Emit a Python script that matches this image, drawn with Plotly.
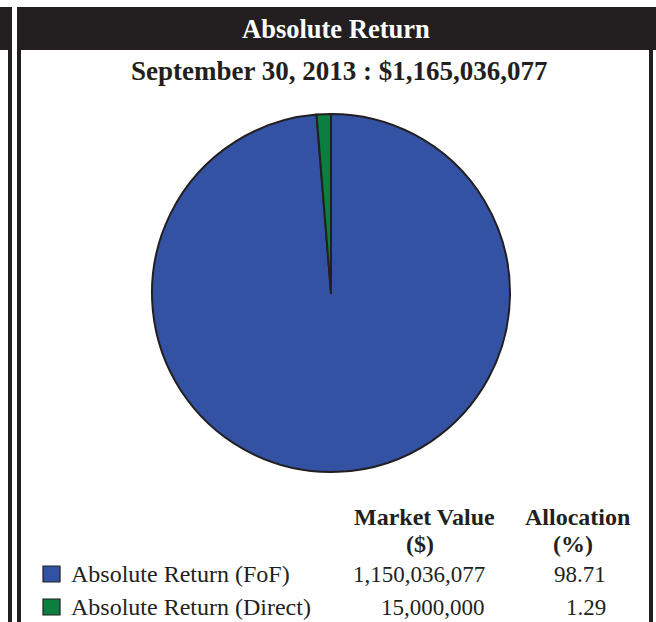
import plotly.graph_objects as go

W, H = 656, 622

header_title = "Absolute Return"
subtitle = "September 30, 2013 : $1,165,036,077"
categories = ["Absolute Return (FoF)", "Absolute Return (Direct)"]
market_values = [1150036077, 15000000]
allocations = [98.71, 1.29]
colors = ["#3452a4", "#0b7f3f"]
col_headers = [("Market Value", "($)"), ("Allocation", "(%)")]

INK = "#231f20"
FONT = "Liberation Serif, Times New Roman, serif"


def px(x):
    return x / W


def py(y):
    return 1 - y / H


fig = go.Figure()
fig.add_trace(go.Pie(
    labels=categories,
    values=market_values,
    marker=dict(colors=colors, line=dict(color=INK, width=2)),
    textinfo="none",
    hoverinfo="label+value+percent",
    sort=False,
    direction="clockwise",
    rotation=0,
    showlegend=False,
    domain=dict(x=[px(152), px(510)], y=[py(472), py(114)]),
))

shapes = []
# header bar
shapes.append(dict(type="rect", xref="paper", yref="paper", x0=px(0), x1=px(12), y0=py(50), y1=py(7),
                   fillcolor=INK, line=dict(width=0), layer="below"))
shapes.append(dict(type="rect", xref="paper", yref="paper", x0=px(17), x1=px(656), y0=py(50), y1=py(7),
                   fillcolor=INK, line=dict(width=0), layer="below"))
# vertical bars
shapes.append(dict(type="rect", xref="paper", yref="paper", x0=px(8), x1=px(12), y0=py(622), y1=py(50),
                   fillcolor=INK, line=dict(width=0)))
shapes.append(dict(type="rect", xref="paper", yref="paper", x0=px(17), x1=px(21), y0=py(622), y1=py(7),
                   fillcolor=INK, line=dict(width=0)))
shapes.append(dict(type="rect", xref="paper", yref="paper", x0=px(649), x1=px(653), y0=py(622), y1=py(50),
                   fillcolor=INK, line=dict(width=0)))

annotations = []
annotations.append(dict(text="<b>%s</b>" % header_title, x=px(336), y=py(29), xref="paper", yref="paper",
                        xanchor="center", yanchor="middle", showarrow=False,
                        font=dict(family=FONT, size=26.5, color="white")))
annotations.append(dict(text="<b>%s</b>" % subtitle, x=px(339), y=py(71), xref="paper", yref="paper",
                        xanchor="center", yanchor="middle", showarrow=False,
                        font=dict(family=FONT, size=27, color=INK)))

# column headers
col_centers = [424, 577]
for (h1, h2), cx in zip(col_headers, col_centers):
    annotations.append(dict(text="<b>%s</b>" % h1, x=px(cx), y=py(517), xref="paper", yref="paper",
                            xanchor="center", yanchor="middle", showarrow=False,
                            font=dict(family=FONT, size=24, color=INK)))
    annotations.append(dict(text="<b>%s</b>" % h2, x=px(cx - 4), y=py(544), xref="paper", yref="paper",
                            xanchor="center", yanchor="middle", showarrow=False,
                            font=dict(family=FONT, size=24, color=INK)))

row_y = [574, 607]
for cat, mv, al, col, ry in zip(categories, market_values, allocations, colors, row_y):
    shapes.append(dict(type="rect", xref="paper", yref="paper", x0=px(43), x1=px(60), y0=py(ry + 8), y1=py(ry - 8),
                       fillcolor=col, line=dict(color=INK, width=1.2)))
    annotations.append(dict(text=cat, x=px(69), y=py(ry), xref="paper", yref="paper",
                            xanchor="left", yanchor="middle", showarrow=False,
                            font=dict(family=FONT, size=24, color=INK)))
    annotations.append(dict(text=f"{mv:,}", x=px(487), y=py(ry), xref="paper", yref="paper",
                            xanchor="right", yanchor="middle", showarrow=False,
                            font=dict(family=FONT, size=23, color=INK)))
    annotations.append(dict(text=f"{al:.2f}", x=px(608), y=py(ry), xref="paper", yref="paper",
                            xanchor="right", yanchor="middle", showarrow=False,
                            font=dict(family=FONT, size=23, color=INK)))

fig.update_layout(
    width=W, height=H,
    margin=dict(l=0, r=0, t=0, b=0),
    paper_bgcolor="white",
    plot_bgcolor="white",
    shapes=shapes,
    annotations=annotations,
)

fig.write_html("out.html", config={"displayModeBar": False},
               post_script="document.body.style.margin='0';document.body.style.overflow='hidden';")
